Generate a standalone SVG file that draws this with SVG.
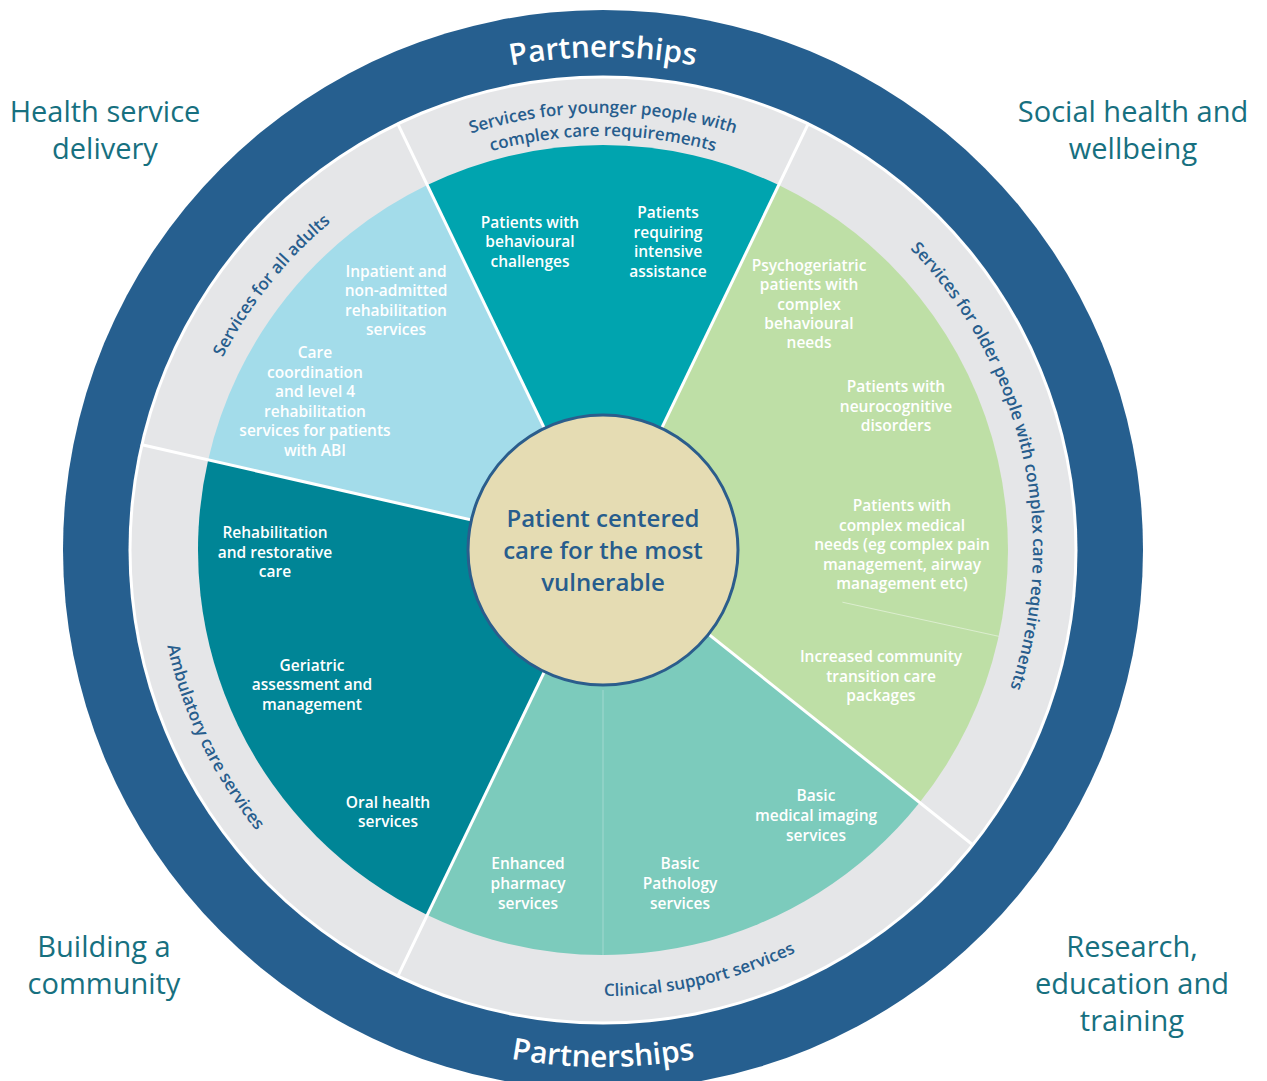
<svg xmlns="http://www.w3.org/2000/svg" width="1267" height="1081" viewBox="0 0 1267 1081">
  <style>
    .corner { font-family: "Open Sans", "Liberation Sans", sans-serif; font-size: 29px; fill: #17707f; text-anchor: middle; }
    .ring { font-family: "Open Sans", "Liberation Sans", sans-serif; font-size: 17px; font-weight: 600; fill: #275d8d; }
    .part { font-family: "Open Sans", "Liberation Sans", sans-serif; font-size: 30px; font-weight: 600; fill: #ffffff; }
    .w { font-family: "Open Sans", "Liberation Sans", sans-serif; font-size: 15.5px; font-weight: 600; fill: #ffffff; text-anchor: middle; }
    .hub { font-family: "Open Sans", "Liberation Sans", sans-serif; font-size: 24px; font-weight: 600; fill: #275d8d; text-anchor: middle; }
    .div { stroke: #ffffff; stroke-width: 3; fill: none; }
  </style>
  <defs>
    <!-- clockwise arcs centred on the top of the wheel (centre 603,550) -->
    <path id="cw493" d="M117.49,464.39 A493,493 0 0 1 1088.51,464.39"/>
    <path id="cw437" d="M172.64,474.12 A437,437 0 0 1 1033.36,474.12"/>
    <path id="cw414" d="M195.29,478.11 A414,414 0 0 1 1010.71,478.11"/>
    <path id="cw426" d="M183.47,476.02 A426,426 0 0 1 1022.53,476.02"/>
    <path id="cw430" d="M179.53,475.33 A430,430 0 0 1 1026.47,475.33"/>
    <!-- counter-clockwise arcs centred on the bottom of the wheel -->
    <path id="ccw517" d="M93.85,639.78 A517,517 0 0 0 1112.15,639.78"/>
    <path id="ccw446" d="M163.77,627.45 A446,446 0 0 0 1042.23,627.45"/>
  </defs>

  <!-- outer partnerships ring -->
  <g id="outer-ring">
    <circle cx="603" cy="550" r="540" fill="#265f8f"/>
    <circle cx="603" cy="550" r="474.5" fill="#ffffff"/>
    <circle cx="603" cy="550" r="471.5" fill="#e5e6e8"/>
    <text class="part"><textPath href="#cw493" startOffset="50%" text-anchor="middle">Partnerships</textPath></text>
    <text class="part"><textPath href="#ccw517" startOffset="50%" text-anchor="middle">Partnerships</textPath></text>
  </g>

  <!-- service wedges -->
  <g id="wedge-younger">
    <path d="M603,550 L427.28,185.11 A405,405 0 0 1 778.72,185.11 Z" fill="#00a4af"/>
  </g>
  <g id="wedge-older">
    <path d="M603,550 L778.72,185.11 A405,405 0 0 1 919.64,802.51 Z" fill="#bedfa6"/>
    <line x1="842.4" y1="602.2" x2="998.7" y2="636.3" stroke="#ffffff" stroke-opacity="0.45" stroke-width="1"/>
  </g>
  <g id="wedge-clinical">
    <path d="M603,550 L919.64,802.51 A405,405 0 0 1 427.28,914.89 Z" fill="#7ccbbc"/>
    <line x1="603" y1="690" x2="603" y2="955" stroke="#ffffff" stroke-opacity="0.3" stroke-width="1"/>
  </g>
  <g id="wedge-ambulatory">
    <path d="M603,550 L427.28,914.89 A405,405 0 0 1 208.15,459.88 Z" fill="#008596"/>
  </g>
  <g id="wedge-adults">
    <path d="M603,550 L208.15,459.88 A405,405 0 0 1 427.28,185.11 Z" fill="#a3dcea"/>
  </g>

  <!-- separators between the segments -->
  <g id="connectors">
    <line class="div" x1="603" y1="550" x2="397.34" y2="122.94"/>
    <line class="div" x1="603" y1="550" x2="808.66" y2="122.94"/>
    <line class="div" x1="603" y1="550" x2="973.59" y2="845.53"/>
    <line class="div" x1="603" y1="550" x2="397.34" y2="977.06"/>
    <line class="div" x1="603" y1="550" x2="140.88" y2="444.53"/>
  </g>

  <!-- segment headings on the grey band -->
  <g id="band-labels">
    <text class="ring"><textPath href="#cw437" startOffset="50%" text-anchor="middle">Services for younger people with</textPath></text>
    <text class="ring"><textPath href="#cw414" startOffset="50%" text-anchor="middle">complex care requirements</textPath></text>
    <text class="ring" transform="rotate(77.14 603 550)"><textPath href="#cw430" startOffset="50%" text-anchor="middle">Services for older people with complex care requirements</textPath></text>
    <text class="ring" transform="rotate(-51.43 603 550)"><textPath href="#cw426" startOffset="50%" text-anchor="middle">Services for all adults</textPath></text>
    <text class="ring" transform="rotate(64.29 603 550)"><textPath href="#ccw446" startOffset="50%" text-anchor="middle">Ambulatory care services</textPath></text>
    <text class="ring" transform="rotate(-12.86 603 550)"><textPath href="#ccw446" startOffset="50%" text-anchor="middle">Clinical support services</textPath></text>
  </g>

  <!-- wedge contents -->
  <g id="node-behavioural">
    <text class="w"><tspan x="530" y="228">Patients with</tspan><tspan x="530" y="247">behavioural</tspan><tspan x="530" y="267">challenges</tspan></text>
  </g>
  <g id="node-intensive">
    <text class="w"><tspan x="668" y="218">Patients</tspan><tspan x="668" y="238">requiring</tspan><tspan x="668" y="257">intensive</tspan><tspan x="668" y="277">assistance</tspan></text>
  </g>
  <g id="node-inpatient">
    <text class="w"><tspan x="396" y="277">Inpatient and</tspan><tspan x="396" y="296">non-admitted</tspan><tspan x="396" y="316">rehabilitation</tspan><tspan x="396" y="335">services</tspan></text>
  </g>
  <g id="node-abi">
    <text class="w"><tspan x="315" y="358">Care</tspan><tspan x="315" y="378">coordination</tspan><tspan x="315" y="397">and level 4</tspan><tspan x="315" y="417">rehabilitation</tspan><tspan x="315" y="436">services for patients</tspan><tspan x="315" y="456">with ABI</tspan></text>
  </g>
  <g id="node-rehab">
    <text class="w"><tspan x="275" y="538">Rehabilitation</tspan><tspan x="275" y="558">and restorative</tspan><tspan x="275" y="577">care</tspan></text>
  </g>
  <g id="node-geriatric">
    <text class="w"><tspan x="312" y="671">Geriatric</tspan><tspan x="312" y="690">assessment and</tspan><tspan x="312" y="710">management</tspan></text>
  </g>
  <g id="node-oral">
    <text class="w"><tspan x="388" y="808">Oral health</tspan><tspan x="388" y="827">services</tspan></text>
  </g>
  <g id="node-psychogeriatric">
    <text class="w"><tspan x="809" y="271">Psychogeriatric</tspan><tspan x="809" y="290">patients with</tspan><tspan x="809" y="310">complex</tspan><tspan x="809" y="329">behavioural</tspan><tspan x="809" y="348">needs</tspan></text>
  </g>
  <g id="node-neurocognitive">
    <text class="w"><tspan x="896" y="392">Patients with</tspan><tspan x="896" y="412">neurocognitive</tspan><tspan x="896" y="431">disorders</tspan></text>
  </g>
  <g id="node-medical">
    <text class="w"><tspan x="902" y="511">Patients with</tspan><tspan x="902" y="531">complex medical</tspan><tspan x="902" y="550">needs (eg complex pain</tspan><tspan x="902" y="570">management, airway</tspan><tspan x="902" y="589">management etc)</tspan></text>
  </g>
  <g id="node-transition">
    <text class="w"><tspan x="881" y="662">Increased community</tspan><tspan x="881" y="682">transition care</tspan><tspan x="881" y="701">packages</tspan></text>
  </g>
  <g id="node-pharmacy">
    <text class="w"><tspan x="528" y="869">Enhanced</tspan><tspan x="528" y="889">pharmacy</tspan><tspan x="528" y="909">services</tspan></text>
  </g>
  <g id="node-pathology">
    <text class="w"><tspan x="680" y="869">Basic</tspan><tspan x="680" y="889">Pathology</tspan><tspan x="680" y="909">services</tspan></text>
  </g>
  <g id="node-imaging">
    <text class="w"><tspan x="816" y="801">Basic</tspan><tspan x="816" y="821">medical imaging</tspan><tspan x="816" y="841">services</tspan></text>
  </g>

  <!-- hub -->
  <g id="node-hub">
    <circle cx="603" cy="550" r="135" fill="#e5dcb3" stroke="#2b5d8c" stroke-width="3"/>
    <text class="hub"><tspan x="603" y="527">Patient centered</tspan><tspan x="603" y="559">care for the most</tspan><tspan x="603" y="591">vulnerable</tspan></text>
  </g>

  <!-- corner themes -->
  <g id="theme-health">
    <text class="corner"><tspan x="105" y="122">Health service</tspan><tspan x="105" y="159">delivery</tspan></text>
  </g>
  <g id="theme-social">
    <text class="corner"><tspan x="1133" y="122">Social health and</tspan><tspan x="1133" y="159">wellbeing</tspan></text>
  </g>
  <g id="theme-community">
    <text class="corner"><tspan x="104" y="957">Building a</tspan><tspan x="104" y="994">community</tspan></text>
  </g>
  <g id="theme-research">
    <text class="corner"><tspan x="1132" y="957">Research,</tspan><tspan x="1132" y="994">education and</tspan><tspan x="1132" y="1031">training</tspan></text>
  </g>
</svg>
